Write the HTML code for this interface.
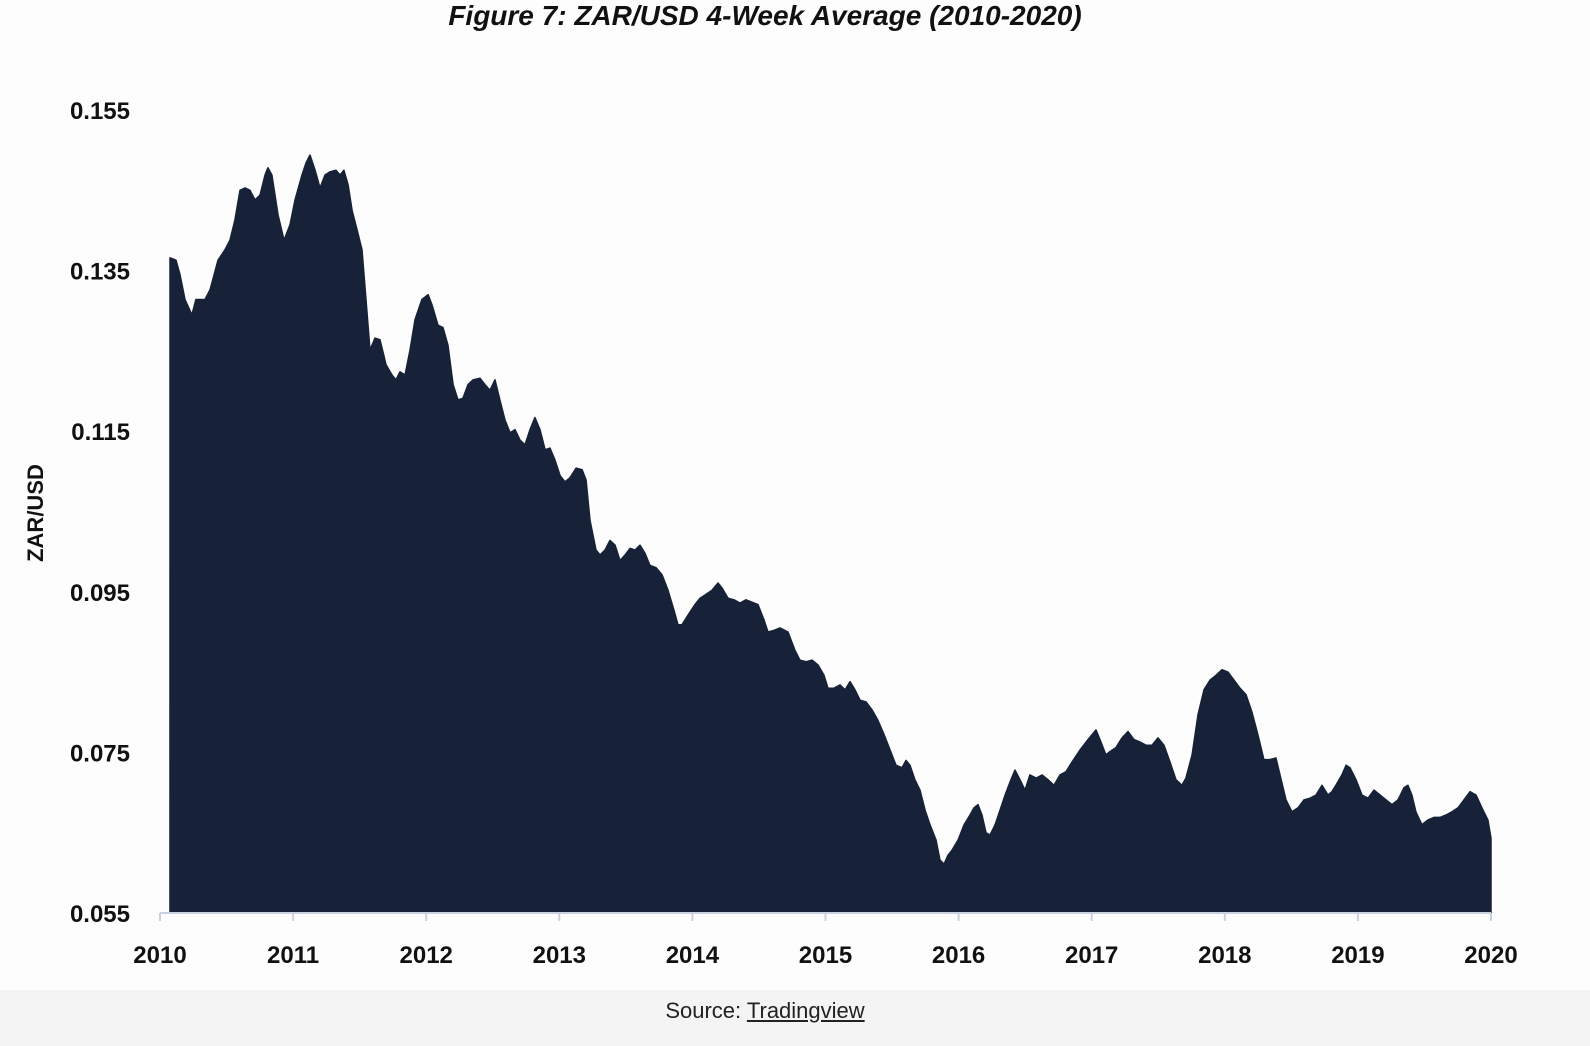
<!DOCTYPE html>
<html><head><meta charset="utf-8">
<style>
html,body{margin:0;padding:0;background:#fdfdfd;}
body{width:1590px;height:1046px;overflow:hidden;position:relative;font-family:"Liberation Sans",sans-serif;}
#title{position:absolute;top:0;left:0;width:1530px;text-align:center;font-style:italic;font-weight:bold;font-size:28px;color:#111;}
#source{position:absolute;top:998px;left:0;width:1530px;text-align:center;font-size:22px;color:#222;}
#source u{text-decoration:underline;}
#strip{position:absolute;left:0;top:990px;width:1590px;height:56px;background:#f4f4f4;}
</style></head>
<body>
<div id="strip"></div>
<div id="title">Figure 7: ZAR/USD 4-Week Average (2010-2020)</div>
<svg id="chart" width="1590" height="1046" style="position:absolute;left:0;top:0"></svg>
<div id="source">Source: <u>Tradingview</u></div>
<script>
const dates=[2010.075,2010.120,2010.150,2010.188,2010.240,2010.270,2010.338,2010.376,2010.436,2010.488,2010.526,2010.563,2010.601,2010.639,2010.676,2010.714,2010.751,2010.789,2010.811,2010.841,2010.887,2010.932,2010.977,2011.014,2011.067,2011.097,2011.127,2011.165,2011.202,2011.240,2011.277,2011.322,2011.352,2011.382,2011.413,2011.443,2011.480,2011.518,2011.548,2011.578,2011.615,2011.653,2011.698,2011.743,2011.773,2011.803,2011.841,2011.878,2011.916,2011.968,2012.014,2012.044,2012.089,2012.126,2012.164,2012.202,2012.239,2012.276,2012.314,2012.352,2012.404,2012.442,2012.479,2012.517,2012.554,2012.592,2012.630,2012.667,2012.705,2012.742,2012.780,2012.817,2012.855,2012.893,2012.930,2012.968,2013.005,2013.043,2013.080,2013.126,2013.171,2013.201,2013.231,2013.276,2013.306,2013.343,2013.381,2013.419,2013.456,2013.494,2013.531,2013.569,2013.606,2013.644,2013.681,2013.727,2013.772,2013.817,2013.862,2013.892,2013.922,2013.967,2014.019,2014.057,2014.095,2014.147,2014.192,2014.222,2014.268,2014.313,2014.358,2014.403,2014.448,2014.493,2014.538,2014.568,2014.613,2014.658,2014.718,2014.771,2014.808,2014.854,2014.899,2014.944,2014.989,2015.019,2015.064,2015.109,2015.147,2015.184,2015.222,2015.260,2015.304,2015.349,2015.394,2015.440,2015.485,2015.530,2015.575,2015.605,2015.635,2015.672,2015.710,2015.748,2015.785,2015.830,2015.860,2015.890,2015.920,2015.950,2015.996,2016.041,2016.086,2016.116,2016.146,2016.176,2016.206,2016.236,2016.274,2016.311,2016.349,2016.386,2016.424,2016.461,2016.499,2016.536,2016.582,2016.627,2016.672,2016.717,2016.762,2016.807,2016.852,2016.912,2016.972,2017.032,2017.062,2017.107,2017.137,2017.182,2017.228,2017.273,2017.318,2017.363,2017.408,2017.453,2017.498,2017.543,2017.588,2017.633,2017.678,2017.708,2017.754,2017.799,2017.844,2017.889,2017.934,2017.979,2018.024,2018.069,2018.114,2018.159,2018.204,2018.249,2018.294,2018.339,2018.385,2018.415,2018.460,2018.505,2018.550,2018.595,2018.640,2018.685,2018.730,2018.775,2018.805,2018.835,2018.880,2018.911,2018.941,2018.986,2019.031,2019.076,2019.121,2019.166,2019.211,2019.256,2019.301,2019.346,2019.376,2019.406,2019.436,2019.481,2019.526,2019.571,2019.617,2019.662,2019.707,2019.752,2019.797,2019.842,2019.887,2019.932,2019.977,2020.000];
const values=[.1366,.1363,.1345,.1314,.1295,.1314,.1314,.1326,.1363,.1376,.1388,.1413,.1450,.1453,.1450,.1438,.1444,.1469,.1478,.1469,.1419,.1388,.1407,.1438,.1469,.1484,.1494,.1475,.1453,.1469,.1473,.1475,.1469,.1475,.1457,.1425,.1401,.1376,.1314,.1251,.1266,.1264,.1233,.1220,.1214,.1224,.1220,.1251,.1289,.1314,.1320,.1307,.1282,.1279,.1257,.1208,.1189,.1191,.1208,.1214,.1216,.1208,.1201,.1214,.1189,.1164,.1148,.1152,.1139,.1133,.1152,.1167,.1152,.1127,.1129,.1114,.1095,.1087,.1092,.1104,.1102,.1089,.1039,.1002,.0996,.1002,.1014,.1008,.0989,.0996,.1004,.1002,.1008,.0998,.0983,.0980,.0971,.0952,.0927,.0909,.0909,.0921,.0934,.0942,.0946,.0952,.0961,.0955,.0942,.0940,.0936,.0940,.0937,.0934,.0915,.0900,.0902,.0905,.0900,.0877,.0865,.0863,.0865,.0859,.0846,.0830,.0830,.0834,.0828,.0838,.0828,.0815,.0813,.0803,.0790,.0772,.0753,.0734,.0731,.0740,.0734,.0716,.0703,.0678,.0660,.0641,.0616,.0611,.0622,.0628,.0641,.0660,.0672,.0681,.0685,.0672,.0650,.0647,.0660,.0678,.0697,.0713,.0728,.0716,.0703,.0722,.0718,.0722,.0716,.0709,.0722,.0726,.0738,.0753,.0766,.0778,.0766,.0747,.0751,.0756,.0768,.0776,.0766,.0763,.0759,.0759,.0768,.0759,.0738,.0716,.0709,.0718,.0747,.0797,.0828,.0840,.0846,.0853,.0850,.0840,.0830,.0822,.0800,.0772,.0741,.0741,.0743,.0722,.0691,.0676,.0681,.0691,.0693,.0697,.0709,.0697,.0701,.0709,.0722,.0734,.0731,.0716,.0697,.0693,.0703,.0697,.0691,.0685,.0691,.0706,.0709,.0697,.0676,.0660,.0666,.0669,.0669,.0672,.0676,.0681,.0691,.0701,.0697,.0681,.0666,.0643];
const yTicks=[0.055,0.075,0.095,0.115,0.135,0.155];
const yTickLabels=["0.055","0.075","0.095","0.115","0.135","0.155"];
const xTicks=[2010,2011,2012,2013,2014,2015,2016,2017,2018,2019,2020];

const X0=160,X1=1491,Y0=913,Y1=110;
const xScale=d=>X0+(d-2010)/10*(X1-X0);
const yScale=v=>Y0-(v-0.055)/0.1*(Y0-Y1);
const NS="http://www.w3.org/2000/svg";
const svg=document.getElementById('chart');
function mk(tag,attrs){const e=document.createElementNS(NS,tag);for(const k in attrs)e.setAttribute(k,attrs[k]);svg.appendChild(e);return e;}

let d=`M${xScale(dates[0])},${Y0}`;
for(let i=0;i<dates.length;i++)d+=` L${xScale(dates[i]).toFixed(1)},${yScale(values[i]).toFixed(1)}`;
d+=` L${xScale(dates[dates.length-1])},${Y0} Z`;
const area=mk('path',{d:d,fill:'#172238','stroke':'#172238','stroke-width':'1.5','stroke-linejoin':'round'});



const axis=mk('line',{x1:X0,y1:Y0,x2:X1,y2:Y0,stroke:'#c8d2df','stroke-width':2});



xTicks.forEach(t=>{
  const tk=mk('line',{x1:xScale(t),y1:Y0,x2:xScale(t),y2:Y0+8,stroke:'#c8d2df','stroke-width':2});
  
  
  const tx=mk('text',{x:xScale(t),y:963,'text-anchor':'middle','font-size':24,'font-weight':'bold',fill:'#111','font-family':'Liberation Sans, sans-serif'});
  tx.textContent=String(t);
  
  
});
yTicks.forEach((t,i)=>{
  const tx=mk('text',{x:130,y:yScale(t)+9,'text-anchor':'end','font-size':24,'font-weight':'bold',fill:'#111','font-family':'Liberation Sans, sans-serif'});
  tx.textContent=yTickLabels[i];
  
  
});
const yt=mk('text',{x:0,y:0,transform:'translate(43,513) rotate(-90)','text-anchor':'middle','font-size':22,'font-weight':'bold',fill:'#111','font-family':'Liberation Sans, sans-serif'});
yt.textContent='ZAR/USD';


</script>
</body></html>
